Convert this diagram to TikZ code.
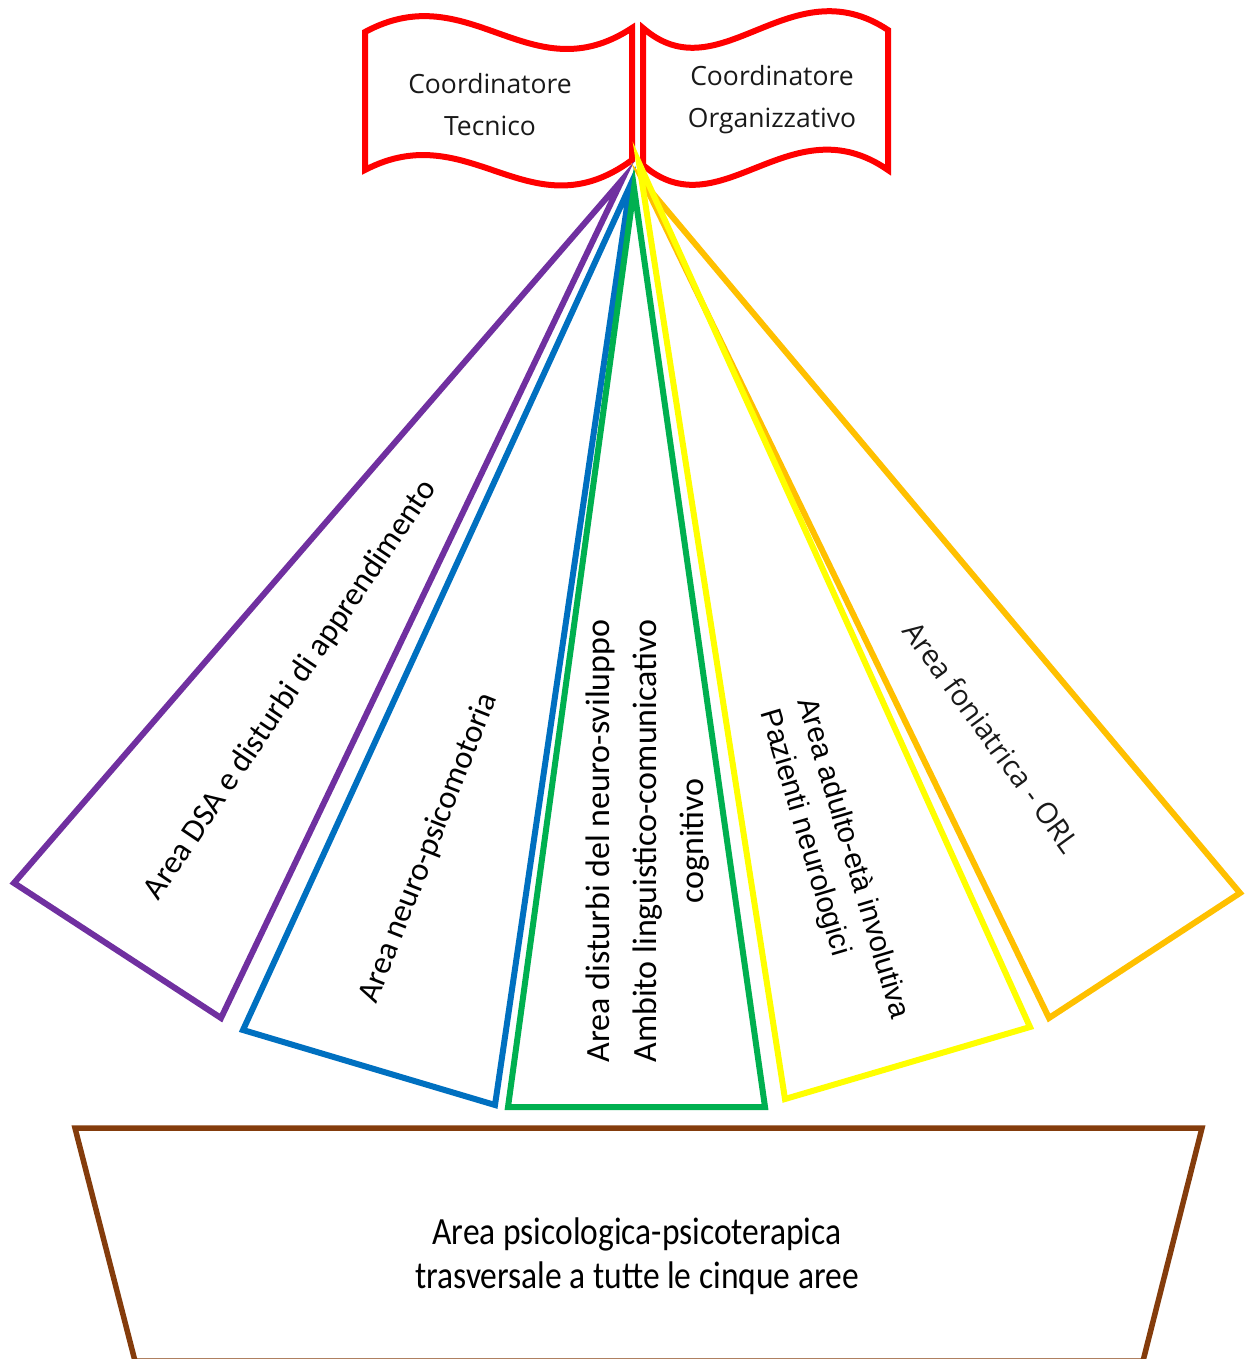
\documentclass[tikz,border=0pt]{standalone}
\usepackage{fontspec}
\usepackage{graphicx}
\setmainfont{Carlito}
\newfontfamily\osans{Open Sans}
\newfontfamily\arialf{Liberation Sans}
\definecolor{cpurple}{HTML}{7030A0}
\definecolor{cblue}{HTML}{0070C0}
\definecolor{cgreen}{HTML}{00B050}
\definecolor{cyellow}{HTML}{FFFF00}
\definecolor{corange}{HTML}{FFC000}
\definecolor{cbrown}{HTML}{843C0C}
\definecolor{cred}{HTML}{FF0000}
\begin{document}
\begin{tikzpicture}[x=1pt,y=-1pt,
  areabox/.style={line width=6pt, line join=miter, miter limit=14},
  banner/.style={cred, line width=6pt, line join=miter, miter limit=14},
  lbl/.style={font=\fontsize{32.5}{40}\selectfont, align=center, inner sep=0pt, text=black},
  bantxt/.style={font=\osans\fontsize{26.5}{42}\selectfont, align=center, inner sep=0pt, text=black!90}]
\useasboundingbox (0,0) rectangle (1246,1359);

% banners
\draw[banner] (365,32) .. controls (470,-25) and (530,95) .. (632,28)
  -- (632,160) .. controls (530,235) and (470,115) .. (365,170) -- cycle;
\draw[banner] (643,28) .. controls (720,95) and (790,-35) .. (888,30)
  -- (888,170) .. controls (790,102) and (720,232) .. (643,165) -- cycle;
\node[bantxt] (tct) at (490,105) {Coordinatore\\Tecnico};
\node[bantxt] (tco) at (772,100) {Coordinatore\\Organizzativo};

% area triangles
\draw[areabox, cpurple] (622,180) -- (14,883) -- (221,1018) -- cycle;
\draw[areabox, cblue] (630,186) -- (243,1030) -- (495,1105) -- cycle;
\draw[areabox, cgreen] (634,188) -- (508,1107) -- (765,1107) -- cycle;
\draw[areabox, corange] (644,183) -- (1049,1018) -- (1240,893) -- cycle;
\draw[areabox, cyellow] (639,163) -- (785,1099) -- (1030,1027) -- cycle;

% bottom trapezoid
\draw[cbrown, line width=5.5pt, line join=miter] (75,1128) -- (1202,1128) -- (1143,1361) -- (135,1361) -- cycle;

% labels
\node[lbl, rotate=56] (tdsa) at (291,690) {Area DSA e disturbi di apprendimento};
\node[lbl, rotate=68.5] (tneuro) at (429,848) {Area neuro-psicomotoria};
\node[lbl, rotate=90, font=\fontsize{34}{47}\selectfont] (tsvil) at (648,841)
  {Area disturbi del neuro-sviluppo\\Ambito linguistico-comunicativo\\cognitivo};
\node[inner sep=0pt, rotate=-73.5, align=left, font=\arialf\fontsize{29.5}{39}\selectfont] (tadulto) at (834,864)
  {Area adulto-età involutiva\\Pazienti neurologici};
\node[inner sep=0pt, rotate=-54, font=\osans\fontsize{29}{36}\selectfont, text=black!90] (torl) at (992,737) {Area foniatrica - ORL};
\node[inner sep=0pt, font=\fontsize{33.5}{38}\selectfont] (tpsi) at (637,1258)
  {\scalebox{1}[1.15]{\begin{tabular}{@{}c@{}}Area psicologica-psicoterapica\\trasversale a tutte le cinque aree\end{tabular}}};
\end{tikzpicture}
\end{document}
